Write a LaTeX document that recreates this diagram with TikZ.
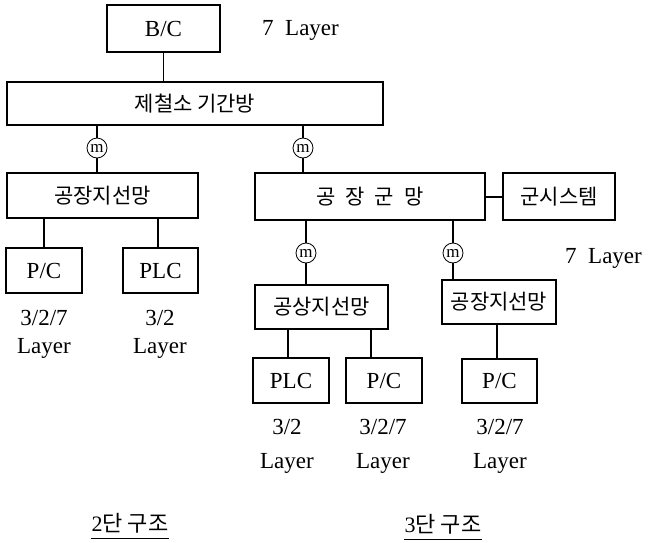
\documentclass[tikz,border=0pt]{standalone}
\usepackage{fontspec}
\setmainfont{Liberation Serif}
\newfontfamily\kr{Noto Sans CJK KR}
\begin{document}
\begin{tikzpicture}[x=1pt,y=-1pt,
  box/.style={draw,line width=1.3pt,inner sep=0pt,font=\fontsize{23}{23}\selectfont},
  kbox/.style={draw,line width=1.3pt,inner sep=0pt,font=\kr\fontsize{21}{21}\selectfont},
  mc/.style={draw,circle,line width=0.8pt,inner sep=0pt,minimum size=20pt,font=\fontsize{17}{17}\selectfont},
  lbl/.style={font=\fontsize{23}{23}\selectfont,inner sep=0pt},
  ttl/.style={font=\fontsize{22}{22}\selectfont,inner sep=0pt},
  conn/.style={line width=1.2pt}]
\useasboundingbox (0,0) rectangle (651,542);
% top
\node[box,minimum width=113pt,minimum height=47pt] (bc) at (163.5,28.5) {B/C};
\node[lbl,anchor=west] (l7a) at (262,30) {7\enspace Layer};
\node[kbox,minimum width=376pt,minimum height=43pt] (steel) at (195,103.5) {제철소 기간방};
\node[mc] (m1) at (97,148) {m};
\node[mc] (m2) at (303,148) {m};
% 2-level
\node[kbox,minimum width=191pt,minimum height=45pt] (fa) at (102.5,195.5) {공장지선망};
\node[box,minimum width=76pt,minimum height=45pt] (pc1) at (44,270.5) {P/C};
\node[box,minimum width=75pt,minimum height=45pt] (plc1) at (160.5,270.5) {PLC};
\node[lbl] (t1a) at (44,318) {3/2/7};
\node[lbl] (t1b) at (44,348) {Layer};
\node[lbl] (t2a) at (160,318) {3/2};
\node[lbl] (t2b) at (160,348) {Layer};
% 3-level
\node[kbox,minimum width=230pt,minimum height=47pt] (grp) at (370,196.5) {공\hspace{10pt}장\hspace{10pt}군\hspace{10pt}망};
\node[kbox,minimum width=112pt,minimum height=47pt] (sys) at (559,196.5) {군시스템};
\node[mc] (m3) at (306,253) {m};
\node[mc] (m4) at (453,253) {m};
\node[lbl,anchor=west] (l7b) at (565,258) {7\enspace Layer};
\node[kbox,minimum width=133pt,minimum height=44pt] (fb) at (321.5,307) {공상지선망};
\node[kbox,minimum width=114pt,minimum height=44pt] (fc) at (499,302) {공장지선망};
\node[box,minimum width=76pt,minimum height=45pt] (plc2) at (291,380.5) {PLC};
\node[box,minimum width=76pt,minimum height=45pt] (pc2) at (384,380.5) {P/C};
\node[box,minimum width=75pt,minimum height=44pt] (pc3) at (499.5,381) {P/C};
\node[lbl] (t3a) at (287,427) {3/2};
\node[lbl] (t3b) at (287,463) {Layer};
\node[lbl] (t4a) at (383,427) {3/2/7};
\node[lbl] (t4b) at (383,463) {Layer};
\node[lbl] (t5a) at (500,427) {3/2/7};
\node[lbl] (t5b) at (500,463) {Layer};
% titles
\node[ttl] (s2) at (130,523) {2{\kr 단 구조}};
\node[ttl] (s3) at (443,524) {3{\kr 단 구조}};
\draw[line width=1pt] ([yshift=-15pt]s2.west) -- ([yshift=-15pt]s2.east);
\draw[line width=1pt] ([yshift=-15pt]s3.west) -- ([yshift=-15pt]s3.east);
% connectors
\draw[conn] (bc.south) -- (bc.south |- steel.north);
\draw[conn] (steel.south -| m1) -- (m1.north);
\draw[conn] (m1.south) -- (fa.north -| m1);
\draw[conn] (steel.south -| m2) -- (m2.north);
\draw[conn] (m2.south) -- (grp.north -| m2);
\draw[conn] (fa.south -| pc1) -- (pc1.north);
\draw[conn] ([xshift=-2.5pt]plc1.north) -- ([xshift=-2.5pt]plc1.north |- fa.south);
\draw[line width=2pt] (grp.east) -- (sys.west);
\draw[conn] (grp.south -| m3) -- (m3.north);
\draw[conn] (m3.south) -- (fb.north -| m3);
\draw[conn] (grp.south -| m4) -- (m4.north);
\draw[conn] (m4.south) -- (fc.north -| m4);
\draw[conn] ([xshift=-3pt]plc2.north) -- ([xshift=-3pt]plc2.north |- fb.south);
\draw[conn] ([xshift=-13pt]pc2.north) -- ([xshift=-13pt]pc2.north |- fb.south);
\draw[conn] ([xshift=-2.5pt]pc3.north) -- ([xshift=-2.5pt]pc3.north |- fc.south);
\end{tikzpicture}
\end{document}
